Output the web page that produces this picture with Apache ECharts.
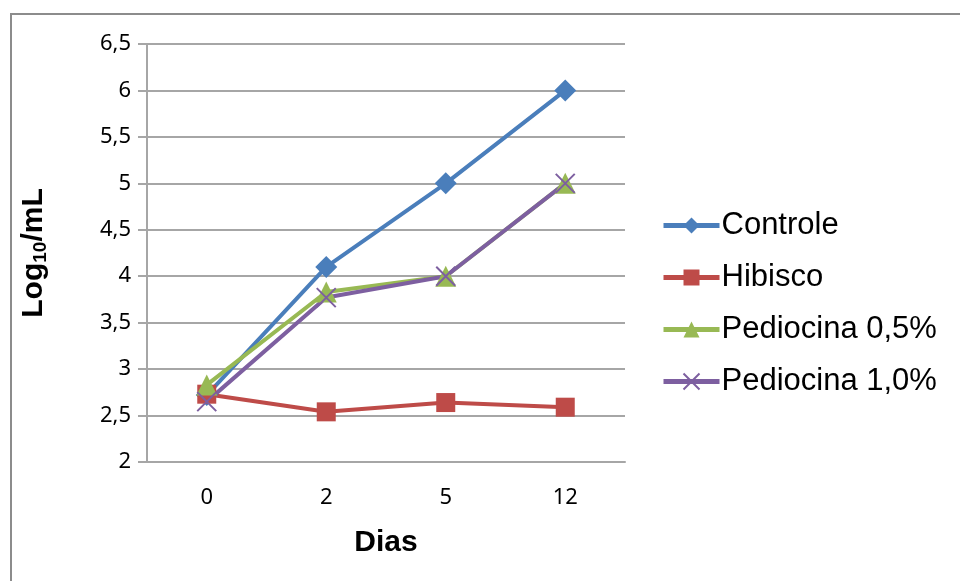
<!DOCTYPE html>
<html>
<head>
<meta charset="utf-8">
<script src="https://cdn.jsdelivr.net/npm/echarts@6/dist/echarts.min.js"></script>
<style>
  html, body { margin: 0; padding: 0; background: #fff; }
  #frame { position: absolute; left: 10px; top: 13px; width: 960px; height: 600px; border: 2px solid #8c8c8c; box-sizing: border-box; }
  #chart { position: absolute; left: 0; top: 0; width: 960px; height: 581px; }
</style>
</head>
<body>
<div id="frame"></div>
<div id="chart"></div>
<script>
// Days of storage
const dias = ['0', '2', '5', '12'];
// Log10/mL counts per treatment
const controle = [2.72, 4.1, 5.0, 6.0];
const hibisco = [2.73, 2.54, 2.64, 2.59];
const pediocina05 = [2.83, 3.83, 4.0, 5.0];
const pediocina10 = [2.65, 3.77, 4.0, 5.0];
// Y axis range
const yMin = 2, yMax = 6.5, yStep = 0.5;

const xSymbol = 'path://M0,0L10,10M10,0L0,10';

function lineSeries(name, data, color, symbol, size, extra) {
  return Object.assign({
    name: name,
    type: 'line',
    data: data,
    symbol: symbol,
    symbolSize: size,
    lineStyle: { color: color, width: 4 },
    itemStyle: { color: color },
    z: 2
  }, extra || {});
}

const chart = echarts.init(document.getElementById('chart'), null, { renderer: 'canvas' });
chart.setOption({
  animation: false,
  backgroundColor: 'transparent',
  grid: { left: 147, right: 335, top: 44, bottom: 119, containLabel: false },
  legend: {
    orient: 'vertical',
    left: 656,
    top: 205,
    itemWidth: 56,
    itemHeight: 20,
    itemGap: 21,
    lineStyle: { width: 5 },
    textStyle: { fontFamily: 'Liberation Sans', fontSize: 31, color: '#000', padding: [0, 0, 0, -3] },
    data: ['Controle', 'Hibisco', 'Pediocina 0,5%', 'Pediocina 1,0%']
  },
  xAxis: {
    type: 'category',
    data: dias,
    boundaryGap: true,
    name: 'Dias',
    nameLocation: 'middle',
    nameGap: 66,
    nameTextStyle: { fontFamily: 'Liberation Sans', fontWeight: 'bold', fontSize: 30, color: '#000' },
    axisLine: { lineStyle: { color: '#a6a6a6', width: 2 } },
    axisTick: { show: false },
    axisLabel: { fontFamily: 'Noto Sans', fontSize: 22, color: '#000', margin: 25 },
    splitLine: { show: false }
  },
  yAxis: {
    type: 'value',
    min: yMin,
    max: yMax,
    interval: yStep,
    name: '{b|Log}{s|10}{b|/mL}',
    nameLocation: 'middle',
    nameGap: 97,
    nameRotate: 90,
    nameTextStyle: {
      rich: {
        b: { fontFamily: 'Liberation Sans', fontWeight: 'bold', fontSize: 30, color: '#000' },
        s: { fontFamily: 'Liberation Sans', fontWeight: 'bold', fontSize: 19, color: '#000', padding: [14, 0, 0, 0] }
      }
    },
    axisLine: { show: true, lineStyle: { color: '#a6a6a6', width: 2 } },
    axisTick: { show: true, length: 9, lineStyle: { color: '#a6a6a6', width: 2 } },
    axisLabel: {
      fontFamily: 'Noto Sans', fontSize: 22, color: '#000', margin: 16,
      formatter: v => String(v).replace('.', ',')
    },
    splitLine: { show: true, lineStyle: { color: '#a6a6a6', width: 2 } }
  },
  series: [
    lineSeries('Controle', controle, '#4a7ebb', 'diamond', 22),
    lineSeries('Hibisco', hibisco, '#be4b48', 'rect', 19),
    lineSeries('Pediocina 0,5%', pediocina05, '#98b954', 'triangle', 21),
    lineSeries('Pediocina 1,0%', pediocina10, '#7d5fa0', xSymbol, 19, {
      itemStyle: { color: '#7d5fa0', borderColor: '#7d5fa0', borderWidth: 2 }
    })
  ]
});
</script>
</body>
</html>
